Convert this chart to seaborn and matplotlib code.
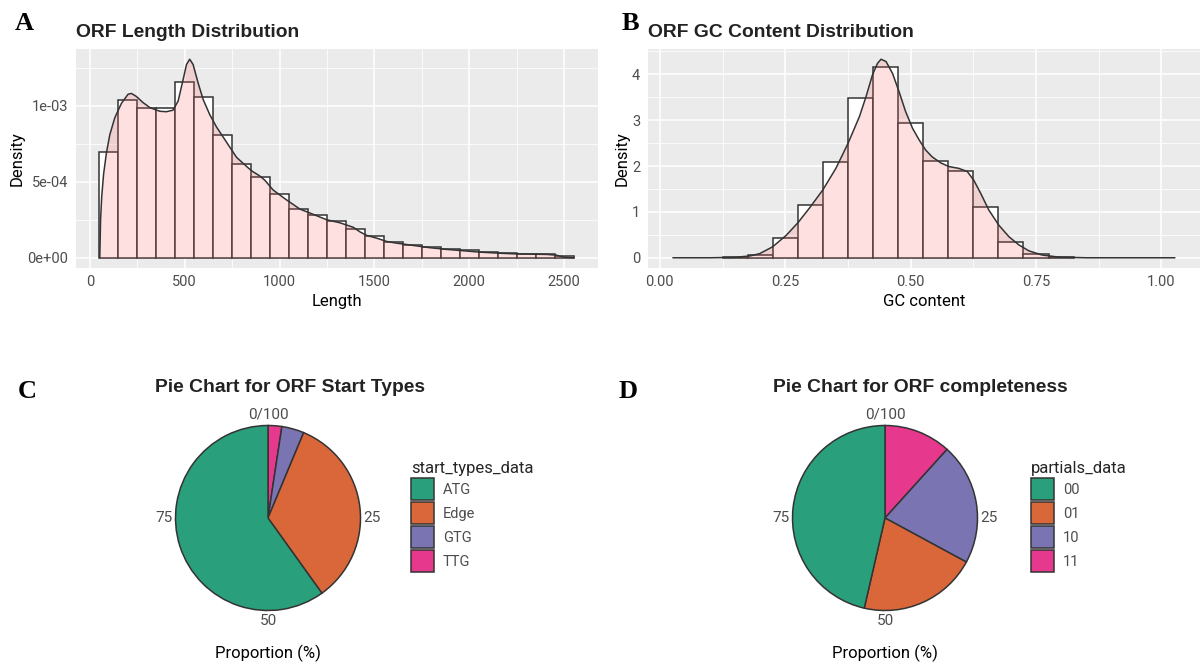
import numpy as np
import matplotlib
matplotlib.use("Agg")
import matplotlib.pyplot as plt
import seaborn as sns
from matplotlib.ticker import MultipleLocator, FuncFormatter, FormatStrFormatter

# ---------------- data ----------------
# Panel A: ORF length histogram (density per bin) and density curve
len_edges = [50, 150, 250, 350, 450, 550, 650, 750, 850, 950, 1050, 1150, 1250,
             1350, 1450, 1550, 1650, 1750, 1850, 1950, 2050, 2150, 2250, 2350, 2450, 2550]
len_density = [6.93e-4, 10.39e-4, 9.85e-4, 9.85e-4, 11.56e-4, 10.55e-4, 8.05e-4, 6.16e-4,
               5.31e-4, 4.17e-4, 3.22e-4, 2.83e-4, 2.43e-4, 1.90e-4, 1.42e-4, 1.03e-4,
               0.85e-4, 0.70e-4, 0.59e-4, 0.48e-4, 0.37e-4, 0.31e-4, 0.26e-4, 0.24e-4, 0.11e-4]
len_kde_x = [52, 56, 62, 72, 87, 105, 131, 166, 201, 219, 245, 280, 316, 368, 403, 438,
             465, 491, 509, 526, 544, 570, 597, 632, 667, 720, 773, 826, 852, 896, 922,
             966, 1037, 1107, 1178, 1248, 1318, 1389, 1424, 1459, 1512, 1565, 1617, 1705,
             1793, 1881, 1969, 2056, 2144, 2232, 2320, 2408, 2460, 2495, 2552]
len_kde_y = [0.0, 2.5e-4, 4.0e-4, 5.5e-4, 6.9e-4, 8.1e-4, 9.2e-4, 10.15e-4, 10.75e-4, 10.8e-4,
             10.6e-4, 10.2e-4, 9.87e-4, 9.63e-4, 9.6e-4, 9.7e-4, 10.3e-4, 11.7e-4, 12.7e-4,
             13.05e-4, 12.7e-4, 11.5e-4, 10.4e-4, 9.4e-4, 8.6e-4, 7.6e-4, 6.6e-4, 6.0e-4,
             5.72e-4, 5.37e-4, 5.1e-4, 4.45e-4, 3.8e-4, 3.2e-4, 2.85e-4, 2.5e-4, 2.3e-4,
             2.0e-4, 1.7e-4, 1.47e-4, 1.29e-4, 1.07e-4, 0.96e-4, 0.81e-4, 0.66e-4, 0.55e-4,
             0.46e-4, 0.37e-4, 0.31e-4, 0.26e-4, 0.24e-4, 0.22e-4, 0.17e-4, 0.05e-4, 0.0]

# Panel B: GC content histogram and density curve
gc_edges = [0.125, 0.175, 0.225, 0.275, 0.325, 0.375, 0.425, 0.475, 0.525, 0.575,
            0.625, 0.675, 0.725, 0.775, 0.825]
gc_density = [0.01, 0.07, 0.44, 1.14, 2.08, 3.49, 4.15, 2.94, 2.12, 1.90, 1.105, 0.35, 0.073, 0.01]
gc_kde_x = [0.026, 0.10, 0.15, 0.18, 0.199, 0.225, 0.252, 0.275, 0.298, 0.325, 0.351, 0.375,
            0.398, 0.411, 0.424, 0.434, 0.441, 0.451, 0.464, 0.477, 0.490, 0.504, 0.517,
            0.530, 0.543, 0.560, 0.576, 0.596, 0.613, 0.626, 0.640, 0.656, 0.676, 0.696,
            0.716, 0.736, 0.762, 0.795, 0.85, 1.027]
gc_kde_y = [0.0, 0.0, 0.01, 0.04, 0.09, 0.24, 0.49, 0.76, 1.08, 1.48, 1.95, 2.49, 3.08, 3.51,
            3.99, 4.24, 4.33, 4.28, 4.02, 3.62, 3.19, 2.82, 2.57, 2.35, 2.20, 2.07, 1.99, 1.95,
            1.88, 1.69, 1.40, 1.04, 0.71, 0.46, 0.28, 0.15, 0.06, 0.015, 0.0, 0.0]

# Panel C: start types (percent)
start_types = ["ATG", "Edge", "GTG", "TTG"]
start_props = [59.9, 33.8, 3.9, 2.4]

# Panel D: completeness (percent)
partials = ["00", "01", "10", "11"]
partial_props = [46.4, 20.7, 21.2, 11.7]

pie_colors = ["#2A9F7B", "#DA673A", "#7A74B3", "#E6398D"]
theta_labels = ["0/100", "25", "50", "75"]

# ---------------- styling ----------------
sns.set_theme(style="white")
plt.rcParams["font.family"] = ["Roboto", "DejaVu Sans"]
TITLE_FONT = ["Liberation Sans", "DejaVu Sans"]

W, H = 1201, 664
fig = plt.figure(figsize=(W / 100, H / 100), dpi=100)

def fbox(left, top, right, bottom):
    return [left / W, 1 - bottom / H, (right - left) / W, (bottom - top) / H]

TICK_C = "#4D4D4D"
LINE_C = "#333333"
TITLE_C = "#222222"

def style_hist_axes(ax):
    ax.set_facecolor("#EBEBEB")
    for s in ax.spines.values():
        s.set_visible(False)
    ax.set_axisbelow(True)
    ax.grid(which="major", color="white", linewidth=1.1)
    ax.grid(which="minor", color="white", linewidth=0.55)
    ax.tick_params(which="major", length=3, width=0.8, color=LINE_C,
                   labelcolor=TICK_C, labelsize=10.5, pad=2.5)
    ax.tick_params(which="minor", length=0)
    ax.use_sticky_edges = False
    ax.margins(x=0.05, y=0.05)

def draw_hist(ax, edges, dens, kx, ky):
    centers = (np.array(edges[:-1]) + np.array(edges[1:])) / 2
    sns.histplot(x=centers, weights=dens, bins=edges, stat="count", ax=ax,
                 color="white", edgecolor=LINE_C, linewidth=1.1, alpha=1.0)
    ax.fill_between(kx, ky, color="#FF6666", alpha=0.2, linewidth=0, zorder=1.5)
    sns.lineplot(x=kx, y=ky, ax=ax, color=LINE_C, linewidth=1.1, zorder=2)

def hist_titles(ax, xlabel, title):
    ax.set_xlabel(xlabel, fontsize=12, color="black", labelpad=3.5)
    ax.set_ylabel("Density", fontsize=12, color="black", labelpad=2)
    ax.set_title(title, loc="left", fontsize=13.9, fontweight="bold",
                 family=TITLE_FONT, color=TITLE_C, pad=9)

# Panel A
axA = fig.add_axes(fbox(75.7, 49.3, 597.7, 267.7))
draw_hist(axA, len_edges, len_density, len_kde_x, len_kde_y)
style_hist_axes(axA)
axA.xaxis.set_major_locator(MultipleLocator(500))
axA.xaxis.set_minor_locator(MultipleLocator(250))
axA.yaxis.set_major_locator(MultipleLocator(5e-4))
axA.yaxis.set_minor_locator(MultipleLocator(2.5e-4))
axA.yaxis.set_major_formatter(FuncFormatter(lambda v, p: f"{v:.0e}"))
hist_titles(axA, "Length", "ORF Length Distribution")

# Panel B
axB = fig.add_axes(fbox(647.8, 49.3, 1200, 267.7))
draw_hist(axB, gc_edges, gc_density, gc_kde_x, gc_kde_y)
style_hist_axes(axB)
axB.xaxis.set_major_locator(MultipleLocator(0.25))
axB.xaxis.set_minor_locator(MultipleLocator(0.125))
axB.xaxis.set_major_formatter(FormatStrFormatter("%.2f"))
axB.yaxis.set_major_locator(MultipleLocator(1))
axB.yaxis.set_minor_locator(MultipleLocator(0.5))
hist_titles(axB, "GC content", "ORF GC Content Distribution")

# Pies
def draw_pie(cx, cy, R, labels, props, legend_title, title, title_x, legend_x):
    half = 1.25 * R
    ax = fig.add_axes(fbox(cx - half, cy - half, cx + half, cy + half))
    wedges, _ = ax.pie(props[::-1], colors=pie_colors[::-1], startangle=90,
                       counterclock=False,
                       wedgeprops=dict(edgecolor=LINE_C, linewidth=1.1))
    ax.set_xlim(-1.25, 1.25)
    ax.set_ylim(-1.25, 1.25)
    ax.text(0, 1.04, theta_labels[0], ha="center", va="bottom", fontsize=11, color=TICK_C)
    ax.text(1.03, 0, theta_labels[1], ha="left", va="center", fontsize=11, color=TICK_C)
    ax.text(0, -1.04, theta_labels[2], ha="center", va="top", fontsize=11, color=TICK_C)
    ax.text(-1.03, 0, theta_labels[3], ha="right", va="center", fontsize=11, color=TICK_C)
    fig.text(cx / W, 1 - 653 / H, "Proportion (%)", ha="center", va="center",
             fontsize=12, color="black")
    fig.text(title_x / W, 1 - 391.7 / H, title, ha="center", va="baseline", fontsize=13.9,
             fontweight="bold", family=TITLE_FONT, color=TITLE_C)
    leg = ax.legend(wedges[::-1], labels, title=legend_title, loc="upper left",
                    bbox_to_anchor=(legend_x / W, 1 - 454 / H),
                    bbox_transform=fig.transFigure, frameon=False, borderpad=0,
                    fontsize=10.5, title_fontsize=12, handlelength=1.56,
                    handleheight=2.02, labelspacing=0.09, handletextpad=0.6,
                    alignment="left")
    for t in leg.get_texts():
        t.set_color(TICK_C)
    return ax

draw_pie(268, 518, 92.5, start_types, start_props, "start_types_data",
         "Pie Chart for ORF Start Types", 290, 404)
draw_pie(885, 518, 92.5, partials, partial_props, "partials_data",
         "Pie Chart for ORF completeness", 920, 1024)

# Panel letters
for letter, x, y in [("A", 24, 23), ("B", 630, 23), ("C", 27, 392), ("D", 628, 392)]:
    fig.text(x / W, 1 - y / H, letter, ha="center", va="center", fontsize=19,
             fontweight="bold", family=["Liberation Serif", "DejaVu Serif"], color="black")

fig.savefig("out.png", dpi=100)
